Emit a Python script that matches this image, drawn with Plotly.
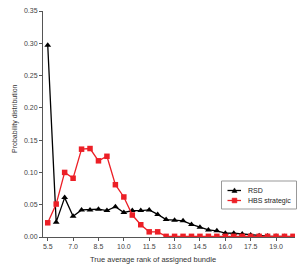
import plotly.graph_objects as go

ranks = [5.5 + 0.5 * i for i in range(30)]
rsd = [0.297, 0.023, 0.061, 0.032, 0.042, 0.042, 0.043, 0.041, 0.047, 0.038,
       0.041, 0.041, 0.042, 0.035, 0.027, 0.026, 0.025, 0.0195, 0.015, 0.011,
       0.0095, 0.006, 0.0058, 0.0045, 0.003, 0.002, 0.0015, 0.001, 0.0006, 0.0005]
hbs = [0.022, 0.051, 0.100, 0.091, 0.136, 0.137, 0.118, 0.125, 0.081, 0.062,
       0.034, 0.019, 0.008, 0.008, 0.001, 0.001, 0.001, 0.001, 0.001, 0.001,
       0.001, 0.001, 0.001, 0.001, 0.001, 0.001, 0.001, 0.001, 0.001, 0.001]
xticks = [5.5, 7.0, 8.5, 10.0, 11.5, 13.0, 14.5, 16.0, 17.5, 19.0]
yticks = [0.00, 0.05, 0.10, 0.15, 0.20, 0.25, 0.30, 0.35]
series_names = ["RSD", "HBS strategic"]
series_colors = ["black", "#ec1f26"]
x_title = "True average rank of assigned bundle"
y_title = "Probability distribution"

fig = go.Figure()
fig.add_trace(go.Scatter(x=ranks, y=rsd, mode="lines+markers", name=series_names[0],
                         line=dict(color=series_colors[0], width=1.3),
                         marker=dict(symbol="triangle-up", size=6, color=series_colors[0])))
fig.add_trace(go.Scatter(x=ranks, y=hbs, mode="lines+markers", name=series_names[1],
                         line=dict(color=series_colors[1], width=1.3),
                         marker=dict(symbol="square", size=5.5, color=series_colors[1])))

# compact legend box (drawn in paper coordinates)
W, H = 300, 268
ml, mr, mt, mb = 43, 5, 11, 31
pw, ph = W - ml - mr, H - mt - mb
def px(xp):
    return (xp - ml) / pw
def py(yp):
    return (H - mb - yp) / ph

FONT = "Liberation Sans, Arial"
shapes = [dict(type="rect", xref="paper", yref="paper",
               x0=px(221.5), x1=px(296.5), y0=py(209), y1=py(181),
               line=dict(color="#999", width=1), fillcolor="white", layer="above")]
annotations = []
legend_rows = [190.5, 200.5]
for i, (name, col) in enumerate(zip(series_names, series_colors)):
    yy = legend_rows[i]
    shapes.append(dict(type="line", xref="paper", yref="paper",
                       x0=px(227.5), x1=px(241), y0=py(yy), y1=py(yy),
                       line=dict(color=col, width=1.3), layer="above"))
    cx = 234.5
    if i == 0:
        path = f"M {px(cx-2.6)} {py(yy+2)} L {px(cx+2.6)} {py(yy+2)} L {px(cx)} {py(yy-2.6)} Z"
    else:
        path = f"M {px(cx-2.4)} {py(yy+2.4)} L {px(cx+2.4)} {py(yy+2.4)} L {px(cx+2.4)} {py(yy-2.4)} L {px(cx-2.4)} {py(yy-2.4)} Z"
    shapes.append(dict(type="path", xref="paper", yref="paper", path=path,
                       fillcolor=col, line=dict(color=col, width=0.5), layer="above"))
    annotations.append(dict(xref="paper", yref="paper", x=px(246), y=py(yy),
                            xanchor="left", yanchor="middle", showarrow=False,
                            text=name, font=dict(family=FONT, size=7, color="#222")))

# axis titles
annotations.append(dict(xref="paper", yref="paper", x=px(152.5), y=py(259),
                        xanchor="center", yanchor="middle", showarrow=False,
                        text=x_title, font=dict(family=FONT, size=7.5, color="#333")))
annotations.append(dict(xref="paper", yref="paper", x=px(14.5), y=py(118.5),
                        xanchor="center", yanchor="middle", showarrow=False, textangle=-90,
                        text=y_title, font=dict(family=FONT, size=7, color="#333")))

tickfont = dict(family=FONT, size=7, color="#444")
fig.update_layout(
    width=W, height=H,
    margin=dict(l=ml, r=mr, t=mt, b=mb, autoexpand=False),
    plot_bgcolor="white", paper_bgcolor="white",
    showlegend=False,
    shapes=shapes, annotations=annotations,
    xaxis=dict(range=[5.22, 20.12], tickvals=xticks, ticktext=[f"{v:.1f}" for v in xticks],
               showgrid=False, zeroline=False, showline=True, linecolor="#555", linewidth=1,
               ticks="outside", ticklen=3, tickcolor="#555", tickfont=tickfont),
    yaxis=dict(range=[0, 0.35], tickvals=yticks, ticktext=[f"{v:.2f}" for v in yticks],
               showgrid=False, zeroline=False, showline=True, linecolor="#555", linewidth=1,
               ticks="outside", ticklen=3, tickcolor="#555", tickfont=tickfont),
)
fig.write_html("out.html")
